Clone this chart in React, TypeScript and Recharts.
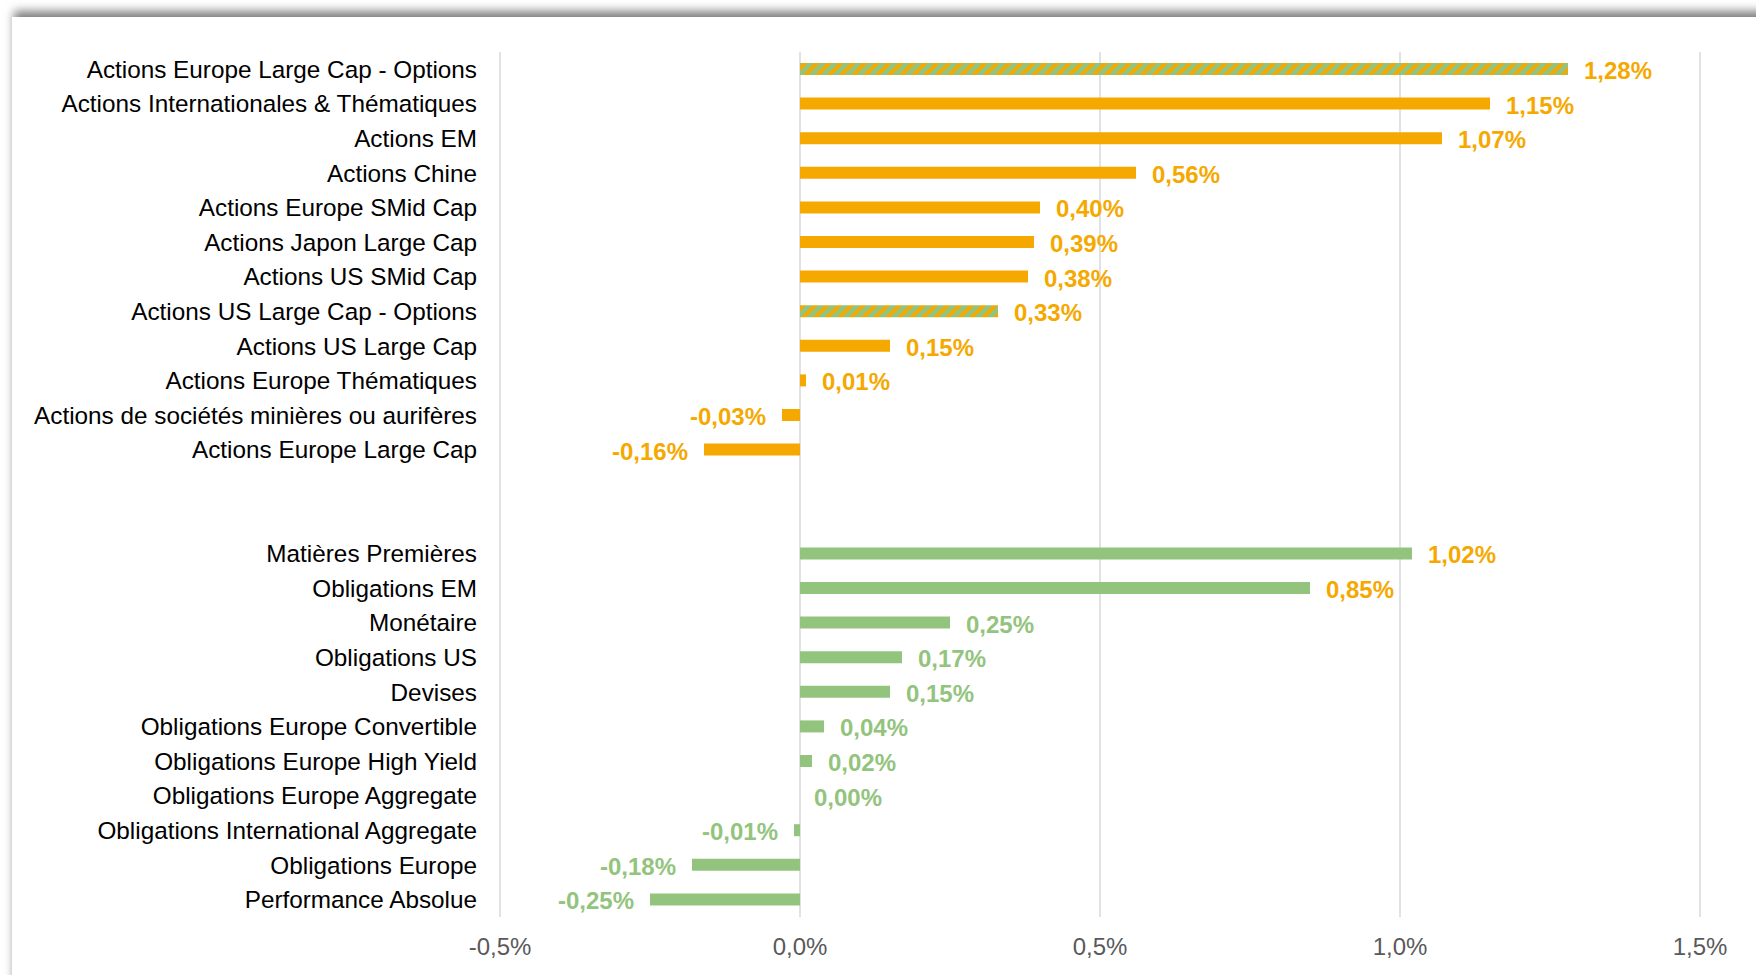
import { BarChart, Bar, XAxis, YAxis, CartesianGrid, Cell, LabelList } from 'recharts';

const actionsCategories = [
  'Actions Europe Large Cap - Options',
  'Actions Internationales & Thématiques',
  'Actions EM',
  'Actions Chine',
  'Actions Europe SMid Cap',
  'Actions Japon Large Cap',
  'Actions US SMid Cap',
  'Actions US Large Cap - Options',
  'Actions US Large Cap',
  'Actions Europe Thématiques',
  'Actions de sociétés minières ou aurifères',
  'Actions Europe Large Cap',
];
const actionsValues = [1.28, 1.15, 1.07, 0.56, 0.4, 0.39, 0.38, 0.33, 0.15, 0.01, -0.03, -0.16];

const otherCategories = [
  'Matières Premières',
  'Obligations EM',
  'Monétaire',
  'Obligations US',
  'Devises',
  'Obligations Europe Convertible',
  'Obligations Europe High Yield',
  'Obligations Europe Aggregate',
  'Obligations International Aggregate',
  'Obligations Europe',
  'Performance Absolue',
];
const otherValues = [1.02, 0.85, 0.25, 0.17, 0.15, 0.04, 0.02, 0.0, -0.01, -0.18, -0.25];

const optionCategories = ['Actions Europe Large Cap - Options', 'Actions US Large Cap - Options'];
const xTicks = [-0.5, 0, 0.5, 1, 1.5];

const ORANGE = '#f5a900';
const GREEN = '#93c47d';
const FONT = '"Liberation Sans", Arial, Helvetica, sans-serif';

type Row = { name: string; value: number | null; color: string; hatched: boolean };

const data: Row[] = [
  ...actionsCategories.map((name, i) => ({
    name,
    value: actionsValues[i],
    color: ORANGE,
    hatched: optionCategories.includes(name),
  })),
  // two empty rows between the groups
  { name: '__gap1', value: null, color: ORANGE, hatched: false },
  { name: '__gap2', value: null, color: ORANGE, hatched: false },
  ...otherCategories.map((name, i) => ({ name, value: otherValues[i], color: GREEN, hatched: false })),
];

const fmt = (v: number, digits: number) => v.toFixed(digits).replace('.', ',') + '%';

const CategoryTick = (props: any) => {
  const { x, y, payload } = props;
  if (String(payload.value).startsWith('__')) return <g />;
  return (
    <text x={x} y={y + 8.5} textAnchor="end" fontSize={24.3} fontFamily={FONT} fill="#000">
      {payload.value}
    </text>
  );
};

const PercentTick = (props: any) => {
  const { x, y, payload } = props;
  return (
    <text x={x} y={y + 38} textAnchor="middle" fontSize={24} fontFamily={FONT} fill="#595959">
      {fmt(payload.value, 1)}
    </text>
  );
};

const ValueLabel = (props: any) => {
  const { x, y, width, height, value, index } = props;
  if (value === null || value === undefined) return null;
  const left = Math.min(x, x + width);
  const right = Math.max(x, x + width);
  const neg = value < 0;
  const row = data[index];
  return (
    <text
      x={neg ? left - 16 : value === 0 ? left + 14 : right + 16}
      y={y + height / 2 + 10}
      textAnchor={neg ? 'end' : 'start'}
      fontSize={24}
      fontWeight="bold"
      fontFamily={FONT}
      fill={row ? row.color : ORANGE}
    >
      {fmt(value, 2)}
    </text>
  );
};

// zero-valued rows get a 1px invisible bar so that their label is still drawn
const minSize = (value: any) => (value === 0 ? 1 : 0);

export default function App() {
  return (
    <div
      style={{
        position: 'fixed',
        left: 0,
        top: 0,
        width: 1756,
        height: 975,
        background: '#fff',
        overflow: 'hidden',
        fontFamily: FONT,
      }}
    >
      <div
        style={{
          position: 'absolute',
          left: 12,
          top: 17,
          right: -30,
          bottom: -30,
          background: '#fff',
          boxShadow: '0 -8px 9px -2px rgba(0,0,0,0.5)',
        }}
      />
      <div style={{ position: 'absolute', left: 0, top: 0 }}>
        <BarChart
          width={1756}
          height={975}
          data={data}
          layout="vertical"
          margin={{ top: 52, right: 56, bottom: 0, left: 0 }}
        >
          <defs>
            <pattern
              id="optionsHatch"
              width="8.5"
              height="8.5"
              patternUnits="userSpaceOnUse"
              patternTransform="rotate(45)"
            >
              <rect width="8.5" height="8.5" fill={GREEN} />
              <rect width="3.8" height="8.5" fill={ORANGE} />
            </pattern>
          </defs>
          <CartesianGrid horizontal={false} stroke="#d9d9d9" strokeWidth={1.5} />
          <XAxis
            type="number"
            domain={[-0.5, 1.5]}
            ticks={xTicks}
            height={58}
            axisLine={false}
            tickLine={false}
            tickSize={0}
            tickMargin={0}
            tick={<PercentTick />}
          />
          <YAxis
            type="category"
            dataKey="name"
            width={500}
            axisLine={false}
            tickLine={false}
            tickSize={0}
            tickMargin={23}
            interval={0}
            tick={<CategoryTick />}
          />
          <Bar dataKey="value" barSize={12} minPointSize={minSize} isAnimationActive={false}>
            {data.map((row) => (
              <Cell
                key={row.name}
                fill={row.value === 0 ? 'transparent' : row.hatched ? 'url(#optionsHatch)' : row.color}
              />
            ))}
            <LabelList dataKey="value" content={<ValueLabel />} />
          </Bar>
        </BarChart>
      </div>
    </div>
  );
}
